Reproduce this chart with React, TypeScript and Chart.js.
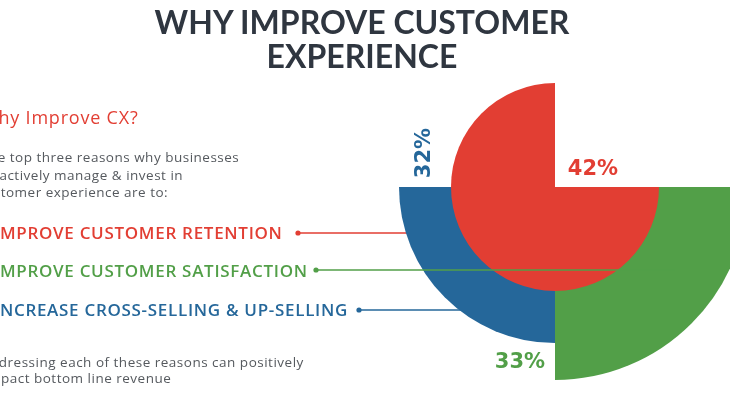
import React, { useEffect, useRef } from 'react';
import { Chart, registerables } from 'chart.js';

Chart.register(...registerables);

// ---- data ----
const quadrants = ['top-right', 'bottom-right', 'bottom-left', 'top-left'];
const reasons = ['IMPROVE CUSTOMER RETENTION', 'IMPROVE CUSTOMER SATISFACTION', 'INCREASE CROSS-SELLING & UP-SELLING'];
const sharePercents = [42, 33, 32]; // retention (red), satisfaction (green), cross/up-sell (blue)
// wedge sizes (radius units) per quadrant
const retentionWedge = [0, 104, 104, 104];
const outerWedge = [0, 193, 156, 0];

const RED = '#e23e33';
const GREEN = '#529f48';
const BLUE = '#25679a';
const GRAY = '#55595e';
const TITLE = '#2f3640';

const overlayPlugin = {
  id: 'overlay',
  beforeDatasetsDraw(chart: any) {
    const ctx = chart.ctx;
    const r = chart.scales.r;
    const cx = r.xCenter;
    ctx.save();
    ctx.lineWidth = 1.5;
    ctx.strokeStyle = RED;
    ctx.beginPath(); ctx.moveTo(298, 233); ctx.lineTo(cx, 233); ctx.stroke();
    ctx.fillStyle = RED;
    ctx.beginPath(); ctx.arc(298, 233, 2.6, 0, Math.PI * 2); ctx.fill();
    ctx.strokeStyle = BLUE;
    ctx.beginPath(); ctx.moveTo(359, 310); ctx.lineTo(cx, 310); ctx.stroke();
    ctx.fillStyle = BLUE;
    ctx.beginPath(); ctx.arc(359, 310, 2.6, 0, Math.PI * 2); ctx.fill();
    ctx.restore();
  },
  afterDatasetsDraw(chart: any) {
    const ctx = chart.ctx;
    const r = chart.scales.r;
    const cx = r.xCenter;
    const cy = r.yCenter;
    ctx.save();
    ctx.lineWidth = 1.5;
    ctx.strokeStyle = GREEN;
    ctx.beginPath(); ctx.moveTo(316, 270); ctx.lineTo(cx + 120, 270); ctx.stroke();
    ctx.fillStyle = GREEN;
    ctx.beginPath(); ctx.arc(316, 270, 2.6, 0, Math.PI * 2); ctx.fill();

    ctx.font = 'bold 21px "DejaVu Sans"';
    ctx.textAlign = 'center';
    ctx.textBaseline = 'middle';
    ctx.fillStyle = RED;
    ctx.fillText(sharePercents[0] + '%', cx + 38, cy - 17);
    ctx.fillStyle = GREEN;
    ctx.fillText(sharePercents[1] + '%', cx - 35, cy + 176);
    ctx.save();
    ctx.translate(cx - 130, cy - 34);
    ctx.rotate(-Math.PI / 2);
    ctx.fillStyle = BLUE;
    ctx.fillText(sharePercents[2] + '%', 0, 0);
    ctx.restore();
    ctx.restore();
  },
};

export default function App() {
  const canvasRef = useRef<HTMLCanvasElement | null>(null);

  useEffect(() => {
    if (!canvasRef.current) return;
    const chart = new Chart(canvasRef.current, {
      type: 'polarArea',
      data: {
        labels: quadrants,
        datasets: [
          {
            data: retentionWedge,
            backgroundColor: RED,
            borderWidth: 0,
            clip: false,
          } as any,
          {
            data: outerWedge,
            backgroundColor: ['rgba(0,0,0,0)', GREEN, BLUE, 'rgba(0,0,0,0)'],
            borderWidth: 0,
            clip: false,
          } as any,
        ],
      },
      options: {
        animation: false,
        responsive: false,
        events: [],
        layout: { padding: { left: 380, right: 0, top: 12, bottom: 32 } },
        plugins: { legend: { display: false }, tooltip: { enabled: false } },
        scales: {
          r: { display: false, min: 0, max: 175, startAngle: 0 },
        },
      },
      plugins: [overlayPlugin],
    });
    return () => chart.destroy();
  }, []);

  const body: React.CSSProperties = {
    position: 'absolute',
    fontFamily: '"Open Sans", sans-serif',
    fontSize: 13.5,
    color: GRAY,
    whiteSpace: 'nowrap',
    lineHeight: '16px',
    letterSpacing: 0.5,
  };
  const bullet: React.CSSProperties = {
    position: 'absolute',
    fontFamily: '"Open Sans", sans-serif',
    fontSize: 17,
    fontWeight: 600,
    whiteSpace: 'nowrap',
    lineHeight: '20px',
    letterSpacing: 0.7,
    left: -6,
  };
  const title: React.CSSProperties = {
    position: 'absolute',
    left: 0,
    width: 724,
    textAlign: 'center',
    fontFamily: 'Lato, sans-serif',
    fontWeight: 700,
    fontSize: 32,
    lineHeight: '36px',
    color: TITLE,
    whiteSpace: 'nowrap',
  };

  return (
    <div style={{ position: 'fixed', left: 0, top: 0, width: 730, height: 394, overflow: 'hidden', background: '#fff' }}>
      <canvas ref={canvasRef} width={730} height={394} style={{ position: 'absolute', left: 0, top: 0, width: 730, height: 394 }} />
      <div style={{ ...title, top: 4 }}>WHY IMPROVE CUSTOMER</div>
      <div style={{ ...title, top: 38 }}>EXPERIENCE</div>
      <div style={{ ...body, fontSize: 18, lineHeight: '20px', color: RED, left: -19, top: 107, letterSpacing: 0.8 }}>Why Improve CX?</div>
      <div style={{ ...body, left: -19, top: 149 }}>The top three reasons why businesses</div>
      <div style={{ ...body, left: -24, top: 167 }}>proactively manage &amp; invest in</div>
      <div style={{ ...body, left: -22, top: 184 }}>customer experience are to:</div>
      <div style={{ ...bullet, color: RED, top: 223 }}>{reasons[0]}</div>
      <div style={{ ...bullet, color: GREEN, top: 261 }}>{reasons[1]}</div>
      <div style={{ ...bullet, color: BLUE, top: 300 }}>{reasons[2]}</div>
      <div style={{ ...body, left: -19, top: 354 }}>Addressing each of these reasons can positively</div>
      <div style={{ ...body, left: -16, top: 370 }}>impact bottom line revenue</div>
    </div>
  );
}
